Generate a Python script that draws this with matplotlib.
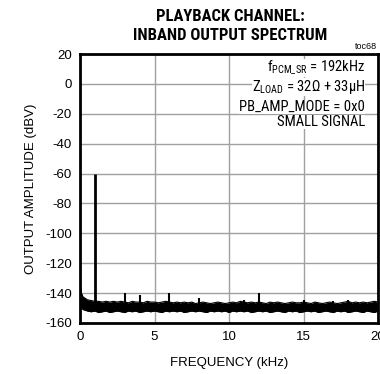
import numpy as np
from matplotlib import pyplot as plt

plt.rcParams["font.family"] = ["Liberation Sans", "DejaVu Sans"]
plt.rcParams["axes.unicode_minus"] = False
plt.rcParams["mathtext.fontset"] = "custom"
plt.rcParams["mathtext.rm"] = "Roboto Condensed"

# frequency grid (kHz) for noise envelope
freq = [0.0, 0.05, 0.1, 0.2, 0.35, 0.5, 0.75, 1.0, 1.25, 1.5, 1.75, 2.0, 2.25, 2.5, 2.75,
        3.0, 3.25, 3.5, 3.75, 4.0, 4.25, 4.5, 4.75, 5.0, 5.25, 5.5, 5.75, 6.0, 6.25, 6.5,
        6.75, 7.0, 7.25, 7.5, 7.75, 8.0, 8.25, 8.5, 8.75, 9.0, 9.25, 9.5, 9.75, 10.0,
        10.25, 10.5, 10.75, 11.0, 11.25, 11.5, 11.75, 12.0, 12.25, 12.5, 12.75, 13.0,
        13.25, 13.5, 13.75, 14.0, 14.25, 14.5, 14.75, 15.0, 15.25, 15.5, 15.75, 16.0,
        16.25, 16.5, 16.75, 17.0, 17.25, 17.5, 17.75, 18.0, 18.25, 18.5, 18.75, 19.0,
        19.25, 19.5, 19.75, 20.0]
noise_hi = [-133, -137, -140, -142.5, -143.5, -144.5, -145, -145.5, -145.5, -146, -145.5, -146,
            -145.5, -146, -145.5, -146, -146.5, -145.5, -146, -146, -146.5, -145.5, -146,
            -146, -146.5, -146, -145.5, -146, -146.5, -146, -146.5, -146, -146.5, -146,
            -147, -146.5, -146, -146.5, -147, -146.5, -146, -146.5, -147, -146.5, -146,
            -146.5, -145.5, -146, -146.5, -146, -146.5, -146, -146.5, -147, -146, -146.5,
            -146, -146.5, -147, -146.5, -146, -146.5, -146.5, -146, -146.5, -147, -146,
            -146.5, -147, -146.5, -146, -146.5, -147, -146.5, -146, -145.5, -146.5, -146,
            -146.5, -146, -146.5, -146, -145.5, -146]
noise_lo = [-146, -149, -150, -151, -151.5, -152, -152.5, -152, -153, -152.5, -152, -153,
            -152.5, -152, -152.5, -153, -152, -152.5, -152, -153, -152.5, -152, -152.5,
            -152, -152.5, -153, -152, -152.5, -152, -152.5, -152, -153, -152.5, -152,
            -152.5, -152, -152.5, -153, -152, -152.5, -152, -152.5, -152, -153, -152,
            -152.5, -152, -152.5, -152, -153, -152.5, -152, -152.5, -152, -153, -152.5,
            -152, -152.5, -153, -152, -152.5, -152, -153, -152.5, -152, -152.5, -152,
            -153, -152.5, -152, -152.5, -153, -152, -152.5, -152, -153, -152.5, -152,
            -152.5, -153, -152, -152.5, -153, -152]

# discrete tones: fundamental and harmonics / spurs
spur_freq = [1.0, 3.0, 4.0, 6.0, 8.0, 11.0, 12.0, 15.0, 17.0, 18.0]
spur_level = [-60, -140, -141, -140, -143.5, -144.5, -140, -144.5, -145, -144.5]

fig = plt.figure(figsize=(3.8, 3.74), dpi=100)
ax = fig.add_axes([0.2105, 0.1364, 0.7845, 0.7192])

ax.fill_between(freq, noise_lo, noise_hi, color="black", lw=0)
ax.plot(freq, noise_hi, color="black", lw=0.8)
ax.plot(freq, noise_lo, color="black", lw=0.8)
for f, lvl in zip(spur_freq, spur_level):
    ax.plot([f, f], [-150, lvl], color="black", lw=2 if lvl > -100 else 1.5,
            solid_capstyle="butt")

ax.set_xlim(0, 20)
ax.set_ylim(-160, 20)
ax.set_xticks([0, 5, 10, 15, 20])
ax.set_yticks(range(-160, 21, 20))
ax.grid(True, color="#a0a0a0", lw=1)
ax.set_axisbelow(True)
ax.tick_params(length=0, labelsize=9.5, pad=6)
for s in ax.spines.values():
    s.set_linewidth(2)

ax.set_xlabel("FREQUENCY (kHz)", fontsize=9.5, labelpad=10)
ax.set_ylabel("OUTPUT AMPLITUDE (dBV)", fontsize=9.5, labelpad=6)

fig.text(0.605, 0.975, "PLAYBACK CHANNEL:\nINBAND OUTPUT SPECTRUM", ha="center", va="top",
         fontsize=12, fontweight="bold", linespacing=1.32,
         family=["Roboto Condensed", "Liberation Sans"])
ax.text(0.995, 1.01, "toc68", transform=ax.transAxes, ha="right", va="bottom", fontsize=6.5)

labels = [r"f$_{\mathregular{PCM\_SR}}$ = 192kHz",
          r"Z$_{\mathregular{LOAD}}$ = 32$\mathregular{\Omega}$ + 33$\mathregular{\mu}$H",
          "PB_AMP_MODE = 0x0",
          "SMALL SIGNAL"]
ypos = [0.948, 0.878, 0.803, 0.747]
for t, y in zip(labels, ypos):
    ax.text(0.956, y, t, transform=ax.transAxes, ha="right", va="center", fontsize=10.5,
            family=["Roboto Condensed", "Liberation Sans"],
            bbox=dict(facecolor="white", edgecolor="none", pad=0))

fig.savefig("out.png")
